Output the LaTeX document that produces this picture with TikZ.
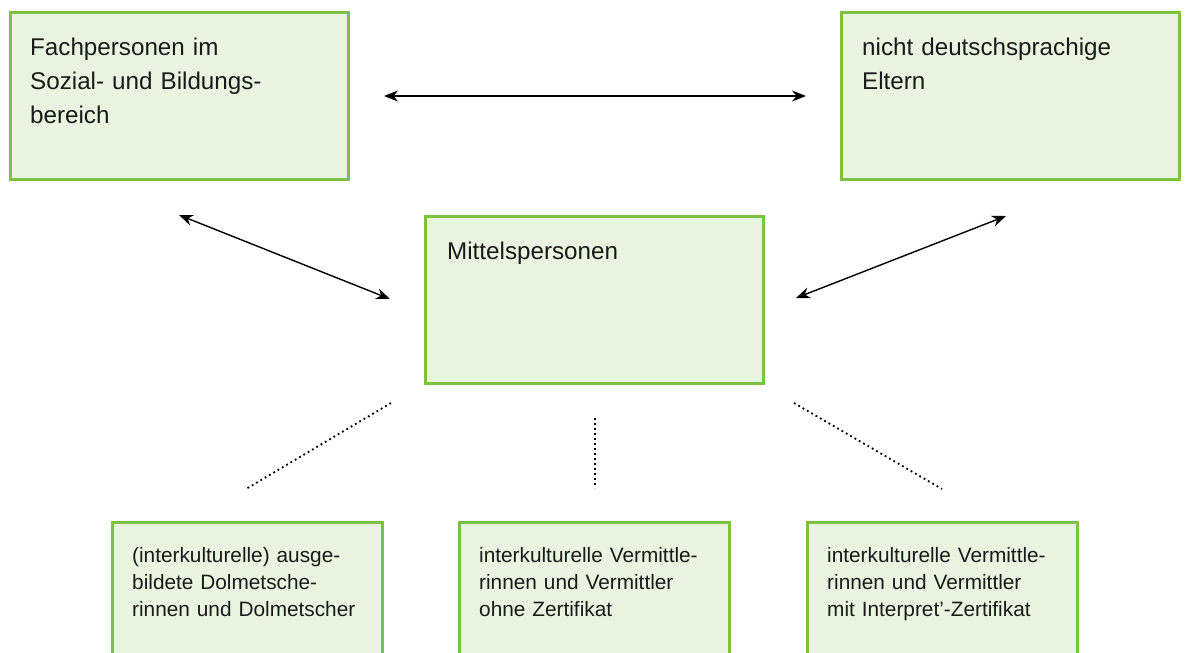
\documentclass[tikz,border=0pt]{standalone}
\usepackage{fontspec}
\setmainfont{Liberation Sans}
\usetikzlibrary{arrows.meta}
\definecolor{boxgreen}{HTML}{7DC242}
\definecolor{boxfill}{HTML}{EAF5E1}
\definecolor{txt}{HTML}{1A1A1A}
\begin{document}
\begin{tikzpicture}[x=1pt,y=-1pt,
  box/.style={draw=boxgreen, fill=boxfill, line width=3pt, rectangle, inner sep=0pt, outer sep=0pt, anchor=north west},
  bigbox/.style={box, minimum width=338pt, minimum height=167pt},
  smallbox/.style={box, minimum width=270pt, minimum height=200pt},
  bigtext/.style={anchor=base west, align=left, inner sep=0pt, text width=320pt, font=\fontsize{24.2}{34}\selectfont, text=txt},
  smalltext/.style={anchor=base west, align=left, inner sep=0pt, text width=260pt, font=\fontsize{20.8}{27}\selectfont, text=txt},
  arr/.style={{Stealth[length=14pt,width=11pt]}-{Stealth[length=14pt,width=11pt]}, line width=1.4pt, black},
  dots/.style={line width=1.8pt, dash pattern=on 1.8pt off 3.2pt, black}
]
\useasboundingbox (0,0) rectangle (1186,653);

\node[bigbox] (tl) at (10,12) {};
\node[bigbox] (tr) at (841,12) {};
\node[bigbox] (mid) at (425,216) {};
\node[smallbox] (b1) at (112,522) {};
\node[smallbox] (b2) at (459,522) {};
\node[smallbox] (b3) at (807,522) {};

\node[bigtext] (tltext) at (30,55) {Fachpersonen im\\Sozial- und Bildungs-\\bereich};
\node[bigtext] (trtext) at (862,55) {nicht deutschsprachige\\Eltern};
\node[bigtext] (midtext) at (447,259) {Mittelspersonen};
\node[smalltext] (b1text) at (132,562) {(interkulturelle) ausge-\\bildete Dolmetsche-\\rinnen und Dolmetscher};
\node[smalltext] (b2text) at (479,562) {interkulturelle Vermittle-\\rinnen und Vermittler\\ohne Zertifikat};
\node[smalltext] (b3text) at (827,562) {interkulturelle Vermittle-\\rinnen und Vermittler\\mit Interpret'-Zertifikat};

\coordinate (h1) at (384,96);
\coordinate (h2) at (806,96);
\coordinate (l1) at (179,215);
\coordinate (l2) at (390,299);
\coordinate (r1) at (796,298);
\coordinate (r2) at (1006,216);
\draw[arr] (h1) -- (h2);
\draw[arr] (l1) -- (l2);
\draw[arr] (r1) -- (r2);

\coordinate (d1a) at (391,403);
\coordinate (d1b) at (246,489);
\coordinate (d2a) at (595,418);
\coordinate (d2b) at (595,488);
\coordinate (d3a) at (794,403);
\coordinate (d3b) at (942,489);
\draw[dots] (d1a) -- (d1b);
\draw[dots] (d2a) -- (d2b);
\draw[dots] (d3a) -- (d3b);
\end{tikzpicture}
\end{document}
